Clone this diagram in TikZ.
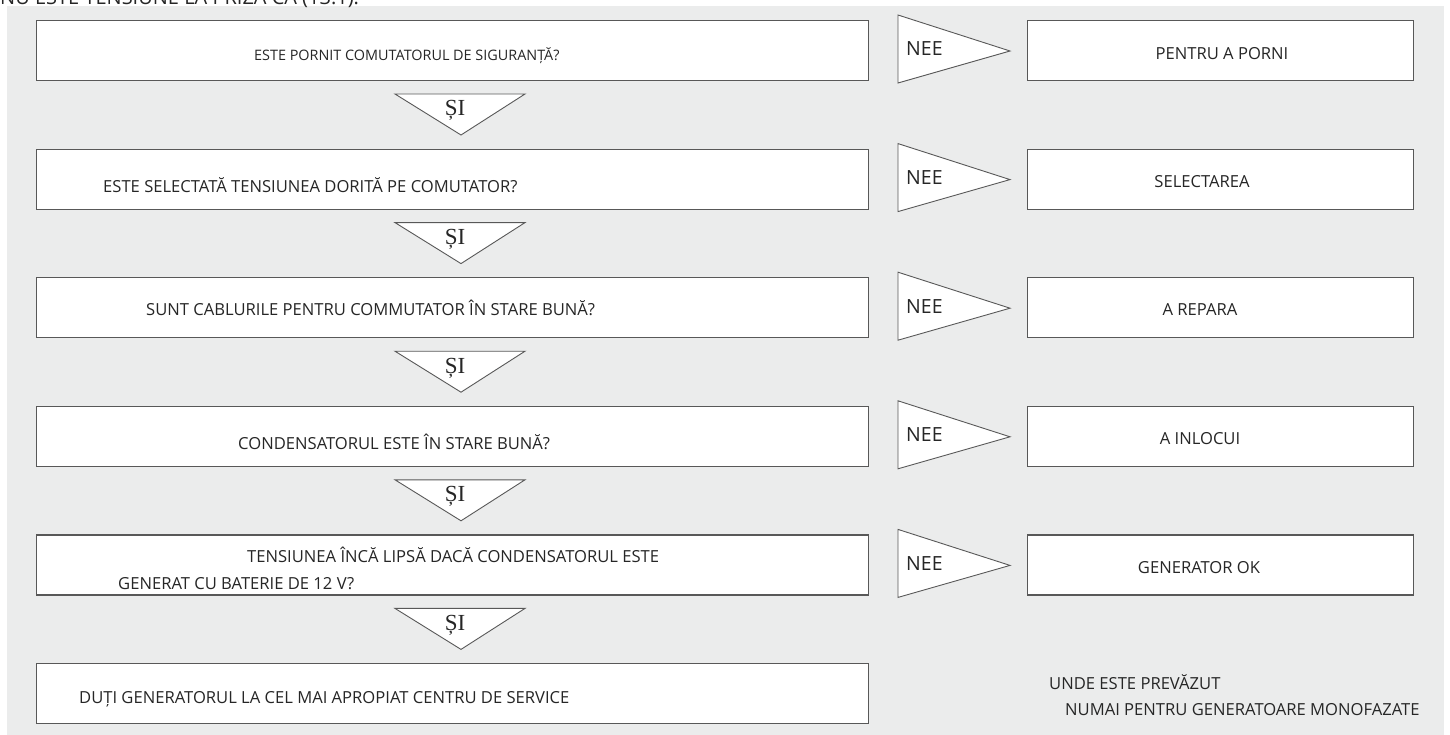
\documentclass[tikz,border=0pt]{standalone}
\usepackage{fontspec}
\setmainfont{Open Sans}
\newfontfamily\sifont{Liberation Serif}
\definecolor{bggray}{HTML}{EBECEC}
\definecolor{linegray}{HTML}{585858}
\definecolor{txtgray}{HTML}{262626}
\tikzset{
  boxbase/.style={draw=linegray, fill=white, line width=1.2pt, anchor=north west, inner sep=0pt, minimum height=60pt},
  lbox/.style={boxbase, minimum width=832pt},
  rbox/.style={boxbase, minimum width=386pt},
  tri/.style={draw=linegray, fill=white, line width=0.9pt, line join=miter},
  txt/.style={anchor=base west, inner sep=0pt, text=txtgray, font=\fontsize{16.6}{20}\selectfont},
  ctxt/.style={txt, anchor=base},
  sitxt/.style={anchor=base, inner sep=0pt, text=txtgray, font=\sifont\fontsize{23}{26}\selectfont},
  neetxt/.style={anchor=base west, inner sep=0pt, text=txtgray, font=\fontsize{19.5}{22}\selectfont}
}
\begin{document}
\begin{tikzpicture}[x=1pt,y=-1pt]
\useasboundingbox (0,0) rectangle (1450,735);
\fill[bggray] (7,6) rectangle (1444,735);
\node[anchor=base west, inner sep=0pt, text=txtgray, font=\fontsize{20}{24}\selectfont] (title) at (0,5) {NU ESTE TENSIUNE LA PRIZA CA (13.1).};
% left question boxes
\foreach \i/\t in {1/20, 2/148.6, 3/277.2, 4/405.8, 5/534.4, 6/663} {
  \node[lbox] (q\i) at (36,\t) {};
}
% right answer boxes, NEE and SI arrows
\foreach \i/\t in {1/20, 2/148.6, 3/277.2, 4/405.8, 5/534.4} {
  \node[rbox] (r\i) at (1027,\t) {};
  \draw[tri] (898,\t-5) coordinate (n\i a) -- (1010,\t+31) coordinate (n\i b) -- (898,\t+63) coordinate (n\i c) -- cycle;
  \node[neetxt] (nee\i) at (906,\t+36) {NEE};
  \draw[tri] (395,\t+74) coordinate (s\i a) -- (525,\t+74) coordinate (s\i b) -- (461,\t+115) coordinate (s\i c) -- cycle;
  \node[sitxt] (si\i) at (455,\t+96) {ȘI};
}
% question texts
\node[txt, font=\fontsize{14.4}{17}\selectfont] (t1) at (254,61) {ESTE PORNIT COMUTATORUL DE SIGURANȚĂ?};
\node[txt] (t2) at (103,193) {ESTE SELECTATĂ TENSIUNEA DORITĂ PE COMUTATOR?};
\node[txt] (t3) at (146,315) {SUNT CABLURILE PENTRU COMMUTATOR ÎN STARE BUNĂ?};
\node[txt] (t4) at (238,449) {CONDENSATORUL ESTE ÎN STARE BUNĂ?};
\node[txt] (t5a) at (247,562) {TENSIUNEA ÎNCĂ LIPSĂ DACĂ CONDENSATORUL ESTE};
\node[txt] (t5b) at (118,589) {GENERAT CU BATERIE DE 12 V?};
\node[txt] (t6) at (79,703) {DUȚI GENERATORUL LA CEL MAI APROPIAT CENTRU DE SERVICE};
% answer texts
\node[ctxt] (a1) at (1222,60) {PENTRU A PORNI};
\node[ctxt] (a2) at (1202,187.6) {SELECTAREA};
\node[ctxt] (a3) at (1200,315.2) {A REPARA};
\node[ctxt] (a4) at (1200,444.8) {A INLOCUI};
\node[ctxt] (a5) at (1199,573.4) {GENERATOR OK};
% footnotes
\node[txt] (f1) at (1049,689) {UNDE ESTE PREVĂZUT};
\node[txt] (f2) at (1065,715) {NUMAI PENTRU GENERATOARE MONOFAZATE};
\end{tikzpicture}
\end{document}
